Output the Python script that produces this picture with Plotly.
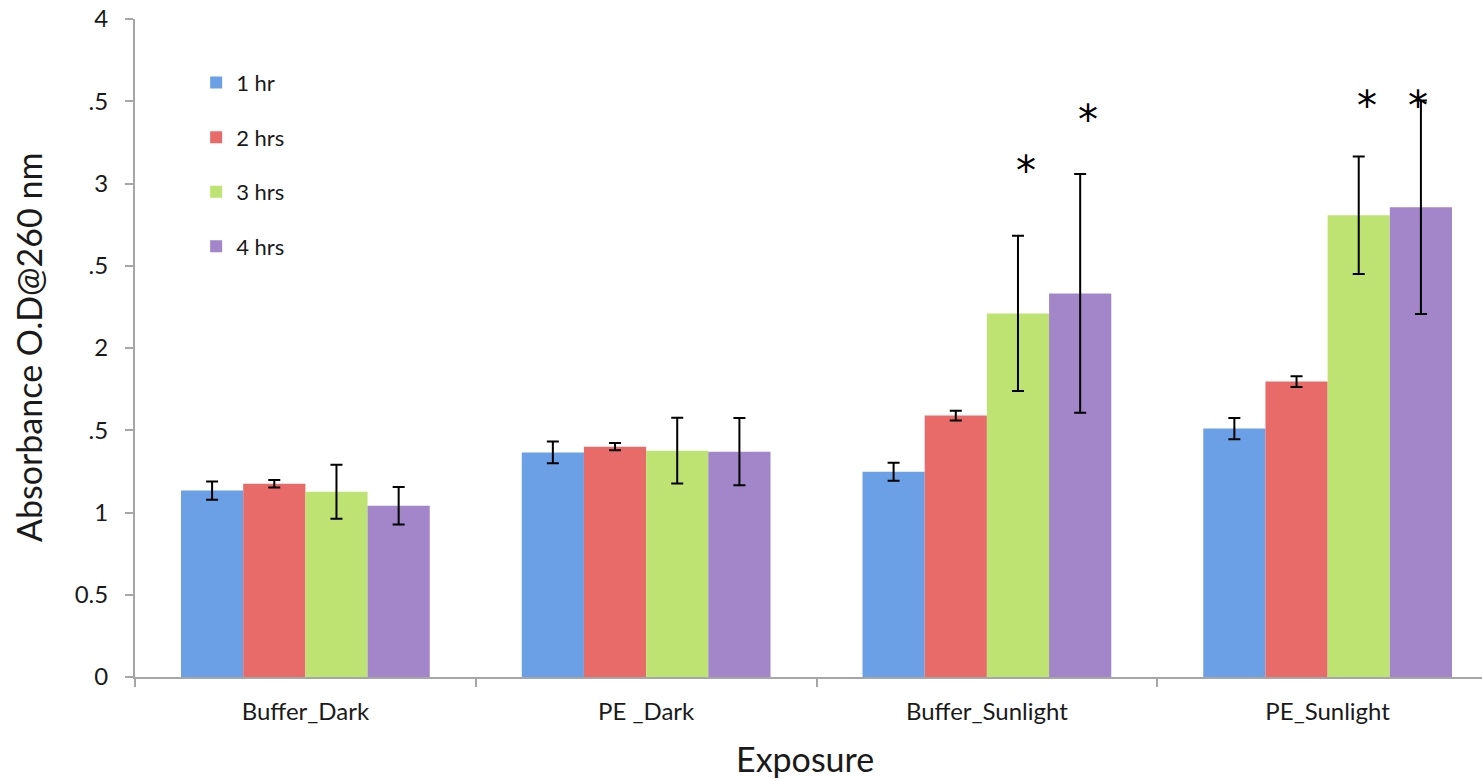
import plotly.graph_objects as go

categories = ["Buffer_Dark", "PE _Dark", "Buffer_Sunlight", "PE_Sunlight"]
series_names = ["1 hr", "2 hrs", "3 hrs", "4 hrs"]

values_1hr = [1.133, 1.365, 1.248, 1.510]
values_2hr = [1.175, 1.400, 1.589, 1.796]
values_3hr = [1.126, 1.376, 2.210, 2.807]
values_4hr = [1.041, 1.370, 2.332, 2.855]

err_1hr = [0.055, 0.066, 0.055, 0.064]
err_2hr = [0.023, 0.022, 0.030, 0.033]
err_3hr = [0.164, 0.200, 0.472, 0.357]
err_4hr = [0.114, 0.205, 0.725, 0.649]

y_tick_values = [0, 0.5, 1, 1.5, 2, 2.5, 3, 3.5, 4]
y_tick_labels = ["0", "0.5", "1", ".5", "2", ".5", "3", ".5", "4"]

x_title = "Exposure"
y_title = "Absorbance O.D@260 nm"

# significance markers: (category index, series index, y position)
star_category = [2, 2, 3, 3]
star_series = [2, 3, 2, 3]
star_y = [3.11, 3.42, 3.51, 3.51]

colors = ["#6ca0e6", "#e86b6a", "#bee372", "#a385c9"]
all_values = [values_1hr, values_2hr, values_3hr, values_4hr]
all_errs = [err_1hr, err_2hr, err_3hr, err_4hr]

FONT = "Lato"
TXT = "#1a1a1a"
GROUP_WIDTH = 0.73

fig = go.Figure()
for name, vals, errs, col in zip(series_names, all_values, all_errs, colors):
    fig.add_trace(go.Bar(
        name=name, x=categories, y=vals,
        marker=dict(color=col, line=dict(width=0)),
        error_y=dict(type="data", array=errs, visible=True,
                     color="black", thickness=2, width=6),
        legendgroup=name,
    ))

n = len(series_names)
bw = GROUP_WIDTH / n
annotations = []
for ci, si, yy in zip(star_category, star_series, star_y):
    xpos = ci - GROUP_WIDTH / 2 + bw * (si + 0.5)
    last = (ci == 3 and si == 3)
    annotations.append(dict(
        x=xpos, y=yy, xref="x", yref="y", text="*", showarrow=False,
        font=dict(family="DejaVu Sans", size=40, color="black"),
        xshift=-3 if last else 8, yshift=-6,
    ))

annotations.append(dict(
    x=-0.0794, y=0.5, xref="paper", yref="paper", text=y_title, textangle=-90,
    showarrow=False, xanchor="center", yanchor="middle",
    font=dict(family=FONT, size=34, color=TXT),
))
annotations.append(dict(
    x=0.4974, y=-0.124, xref="paper", yref="paper", text=x_title,
    showarrow=False, xanchor="center", yanchor="middle",
    font=dict(family=FONT, size=34, color=TXT),
))

axis_color = "#a6a6a6"
fig.update_layout(
    width=1482, height=779,
    margin=dict(l=135, r=0, t=19, b=102),
    paper_bgcolor="white", plot_bgcolor="white",
    barmode="group", bargap=1 - GROUP_WIDTH, bargroupgap=0,
    font=dict(family=FONT, color=TXT),
    showlegend=True,
    legend=dict(x=0.0454, y=0.935, xanchor="left", yanchor="top",
                font=dict(family=FONT, size=22, color=TXT),
                bgcolor="rgba(0,0,0,0)", tracegroupgap=23,
                traceorder="grouped", itemwidth=30),
    xaxis=dict(
        type="category", range=[-0.5, 3.453], automargin=False,
        showline=True, linecolor=axis_color, linewidth=2,
        ticks="outside", tickson="boundaries", ticklen=8,
        tickcolor=axis_color, tickwidth=2,
        tickfont=dict(family=FONT, size=24, color=TXT),
        ticklabelstandoff=12,
        showgrid=False, zeroline=False,
    ),
    yaxis=dict(
        range=[0, 4], tickmode="array", tickvals=y_tick_values, ticktext=y_tick_labels,
        automargin=False,
        showline=True, linecolor=axis_color, linewidth=2,
        ticks="outside", ticklen=8, tickcolor=axis_color, tickwidth=2,
        tickfont=dict(family=FONT, size=24, color=TXT),
        ticklabelstandoff=12,
        showgrid=False, zeroline=False,
    ),
    annotations=annotations,
)

fig.write_html("out.html", config={"displayModeBar": False},
               post_script="document.body.style.margin='0';")
